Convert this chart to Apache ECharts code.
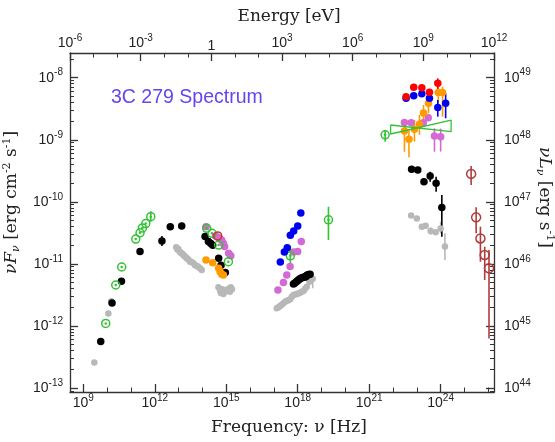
<!DOCTYPE html>
<html>
<head>
<meta charset="utf-8">
<script src="https://cdn.jsdelivr.net/npm/echarts@6/dist/echarts.min.js"></script>
<style>
  html, body { margin: 0; padding: 0; background: #fff; }
  #chart { width: 555px; height: 442px; }
</style>
</head>
<body>
<div id="chart"></div>
<script>
// every value is log10: nu in Hz, nuFnu in erg cm^-2 s^-1
const greyNu = [9.46, 10.05, 10.17,
  12.90, 12.95, 12.99, 13.04, 13.09, 13.13, 13.18, 13.23, 13.29, 13.34, 13.41, 13.48, 13.55, 13.62, 13.69, 13.76, 13.83, 13.90, 13.97,
  14.67, 14.74, 14.84, 14.92, 15.02, 15.10, 15.19, 15.24, 14.88, 14.78, 15.15,
  17.12, 17.19, 17.26, 17.33, 17.40, 17.47, 17.54, 17.61, 17.68, 17.75, 17.82, 17.89, 17.96, 18.03, 18.10, 18.17, 18.24, 18.31, 18.38, 18.49, 18.55, 18.63,
  22.76, 23.00, 23.21, 23.37, 23.58, 23.79, 24.00, 24.18];
const greyF = [-12.59, -11.80, -11.60,
  -10.73, -10.77, -10.76, -10.80, -10.82, -10.83, -10.85, -10.87, -10.89, -10.91, -10.93, -10.965, -10.97, -10.99, -11.02, -11.03, -11.05, -11.07, -11.10,
  -11.378, -11.432, -11.41, -11.453, -11.421, -11.40, -11.378, -11.41, -11.486, -11.47, -11.45,
  -11.716, -11.70, -11.679, -11.66, -11.635, -11.61, -11.593, -11.585, -11.571, -11.53, -11.502, -11.495, -11.486, -11.475, -11.465, -11.45, -11.437, -11.40, -11.368, -11.287, -11.26, -11.239,
  -10.22, -10.27, -10.40, -10.385, -10.47, -10.49, -10.43, -10.72];
const greyErr = [[18.63, -11.393, -11.206], [23.58, -10.53, -10.41], [24.00, -10.507, -10.32], [24.18, -10.937, -10.507]];

const blackNu = [9.73, 10.205, 10.60, 11.38, 12.30, 12.65, 13.13,
  14.11, 14.25, 14.35, 14.43, 14.68, 14.78, 14.96,
  17.82, 17.87, 17.93, 17.98, 18.03, 18.08, 18.13, 18.18, 18.24, 18.29, 18.34, 18.37, 18.40, 18.46, 18.52,
  22.78, 23.04, 23.30, 23.56, 23.81, 24.05];
const blackF = [-12.25, -11.63, -11.28, -10.80, -10.63, -10.40, -10.39,
  -10.56, -10.64, -10.67, -10.70, -10.91, -11.02, -11.14,
  -11.324, -11.31, -11.292, -11.275, -11.26, -11.245, -11.233, -11.225, -11.216, -11.21, -11.207, -11.19, -11.179, -11.17, -11.168,
  -9.476, -9.487, -9.676, -9.584, -9.70, -10.09];
const blackErr = [[12.30, -10.71, -10.55], [22.78, -9.53, -9.43], [23.30, -9.73, -9.62],
  [23.56, -9.676, -9.515], [23.81, -9.837, -9.595], [24.05, -10.562, -9.89]];

const greenNu = [9.94, 10.36, 10.61, 11.20, 11.38, 11.48, 11.62, 11.83, 14.18, 14.40, 14.68, 15.09, 17.69, 19.29, 21.67];
const greenF = [-11.96, -11.34, -11.05, -10.60, -10.50, -10.42, -10.35, -10.24, -10.427, -10.507, -10.696, -10.965, -10.87, -10.29, -8.92];
const greenErr = [[11.83, -10.32, -10.15], [17.69, -11.034, -10.712], [19.29, -10.615, -10.079], [21.67, -9.031, -8.843]];

const magentaNu = [14.15, 14.55, 14.65, 14.74, 14.81, 14.88, 14.93, 15.10, 15.19,
  17.17, 17.40, 17.54, 17.68, 17.83, 18.00, 18.15,
  22.48, 22.76, 23.27, 23.48, 23.74, 24.00];
const magentaF = [-10.40, -10.55, -10.57, -10.60, -10.62, -10.67, -10.72, -10.83, -10.87,
  -11.42, -11.30, -11.18, -11.04, -10.81, -10.80, -10.64,
  -8.72, -8.725, -8.725, -8.645, -8.94, -8.95];
const magentaErr = [[22.48, -8.76, -8.68], [22.76, -8.77, -8.68], [23.48, -8.70, -8.60],
  [23.74, -9.192, -8.815], [24.00, -9.19, -8.82]];

const orangeNu = [14.15, 14.43, 14.68, 14.74, 14.81, 14.88, 22.48, 22.67, 22.90, 23.11, 23.28, 23.49, 23.90, 24.08];
const orangeF = [-10.937, -10.98, -11.07, -11.126, -11.168, -11.18, -8.86, -8.99, -8.83, -8.75, -8.57, -8.41, -8.24, -8.24];
const orangeErr = [[22.48, -9.192, -8.682], [22.67, -9.283, -8.843], [22.90, -9.03, -8.682], [23.11, -8.92, -8.60],
  [23.28, -8.735, -8.44], [23.49, -8.574, -8.306], [23.90, -8.41, -8.064], [24.08, -8.628, -8.145]];

const blueNu = [17.27, 17.44, 17.56, 17.69, 17.83, 18.00, 18.13, 22.55, 22.87, 23.21, 23.53, 23.88, 24.21];
const blueF = [-10.97, -10.81, -10.74, -10.54, -10.47, -10.39, -10.18, -8.33, -8.29, -8.26, -8.33, -8.48, -8.41];
const blueErr = [[23.53, -8.39, -8.27], [23.88, -8.628, -8.359], [24.21, -8.654, -8.252]];

const redNu = [22.55, 22.87, 23.21, 23.53, 23.88];
const redF = [-8.306, -8.155, -8.16, -8.236, -8.09];
const redErr = [[23.53, -8.29, -8.18], [23.88, -8.20, -8.01]];
const gammaBinHalf = 0.12;

const optRedNu = [14.64];
const optRedF = [-10.55];

const vheNu = [25.28, 25.49, 25.67, 25.85, 26.03];
const vheF = [-9.55, -10.25, -10.59, -10.857, -11.07];
const vheErr = [[25.28, -9.729, -9.423], [25.49, -10.507, -10.088], [25.67, -10.965, -10.40],
  [25.85, -11.26, -10.723], [26.03, -12.2, -10.776]];

const bowtieNu = [21.90, 24.44, 24.44, 21.90, 21.90];
const bowtieF = [-8.762, -8.87, -8.682, -8.907, -8.762];

// axis ranges (log10) and ticks
const xMin = 8.44, xMax = 26.24;
const yMin = -13.064, yMax = -7.602;
const lumShift = 57;
const nuMajor = [9, 12, 15, 18, 21, 24];
const nuMinor = [9, 10, 11, 12, 13, 14, 15, 16, 17, 18, 19, 20, 21, 22, 23, 24, 25, 26];
const eMajor = [-6, -3, 0, 3, 6, 9, 12];
const eMinor = [-6, -5, -4, -3, -2, -1, 0, 1, 2, 3, 4, 5, 6, 7, 8, 9, 10, 11, 12];
const fluxMajor = [-13, -12, -11, -10, -9, -8];
const lumMajor = [44, 45, 46, 47, 48, 49];

function logMinor(lo, hi) {
  const out = [];
  for (let n = Math.floor(lo); n <= Math.ceil(hi); n++) {
    for (let k = 2; k <= 9; k++) {
      const v = n + Math.log10(k);
      if (v > lo && v < hi) out.push(v);
    }
  }
  return out;
}

const sans = 'Liberation Sans';
const serif = 'DejaVu Serif';
const ink = '#222';
const axisLine = { color: '#333', width: 1.3 };

const tickRich = {
  b: { fontFamily: sans, fontSize: 14, color: ink },
  s: { fontFamily: sans, fontSize: 10, color: ink, padding: [0, 0, 10, 0] }
};
const nameRich = {
  it: { fontFamily: serif, fontSize: 17, fontStyle: 'italic', color: ink },
  sub: { fontFamily: serif, fontSize: 11, fontStyle: 'italic', color: ink, padding: [9, 0, 0, 0] },
  sup: { fontFamily: serif, fontSize: 11, color: ink, padding: [0, 0, 10, 0] }
};

function powLabel(v) {
  const e = Math.round(v);
  if (e === 0) return '{b|1}';
  return '{b|10}{s|' + e + '}';
}

function mainAxis(pos, min, max, major, margin) {
  return {
    type: 'value', position: pos, min: min, max: max,
    axisLine: { show: true, onZero: false, lineStyle: axisLine },
    axisTick: { show: true, inside: true, length: 8, customValues: major, lineStyle: axisLine },
    axisLabel: { show: true, customValues: major, formatter: powLabel, margin: margin, rich: tickRich },
    splitLine: { show: false }
  };
}
function minorAxis(pos, min, max, ticks, len) {
  return {
    type: 'value', position: pos, min: min, max: max,
    axisLine: { show: false, onZero: false },
    axisTick: { show: true, inside: true, length: len, customValues: ticks, lineStyle: { color: '#333', width: 1 } },
    axisLabel: { show: false },
    splitLine: { show: false }
  };
}

const bottomAxis = Object.assign(mainAxis('bottom', xMin, xMax, nuMajor, 1), {
  name: 'Frequency: ν [Hz]', nameLocation: 'middle', nameGap: 27,
  nameTextStyle: { fontFamily: serif, fontSize: 17, color: ink, padding: [0, 0, 0, 14] }
});
const topAxis = Object.assign(mainAxis('top', -6, 12, eMajor, 0), {
  name: 'Energy [eV]', nameLocation: 'middle', nameGap: 28,
  nameTextStyle: { fontFamily: serif, fontSize: 17, color: ink, padding: [0, 0, 0, 14] }
});
const leftAxis = Object.assign(mainAxis('left', yMin, yMax, fluxMajor, 7), {
  name: '{it|νF}{sub|ν} [erg cm{sup|-2} s{sup|-1}]', nameLocation: 'middle', nameGap: 42, nameRotate: 90,
  nameTextStyle: { fontFamily: serif, fontSize: 17, color: ink, rich: nameRich, padding: [0, 0, 0, 40] }
});
const rightAxis = Object.assign(mainAxis('right', yMin + lumShift, yMax + lumShift, lumMajor, 10), {
  name: '{it|νL}{sub|ν} [erg s{sup|-1}]', nameLocation: 'middle', nameGap: 40, nameRotate: -90,
  nameMoveOverlap: false,
  nameTextStyle: { fontFamily: serif, fontSize: 17, color: ink, rich: nameRich, padding: [0, 50, 0, 0] }
});

function pts(nu, f) {
  return nu.map((v, i) => [v, f[i]]);
}
function dots(nu, f, color, size) {
  return { type: 'scatter', data: pts(nu, f), symbol: 'circle', symbolSize: size || 7.5,
    itemStyle: { color: color, opacity: 1 }, silent: true };
}
function rings(nu, f, color, size) {
  return { type: 'scatter', data: pts(nu, f), symbol: 'circle', symbolSize: size || 8,
    itemStyle: { color: 'rgba(0,0,0,0)', borderColor: color, borderWidth: 1.5, opacity: 1 }, silent: true };
}
function vBars(rows, color) {
  return {
    type: 'custom', data: rows, silent: true, itemStyle: { color: color },
    encode: { x: 0, y: [1, 2] },
    renderItem: function (params, api) {
      const a = api.coord([api.value(0), api.value(1)]);
      const b = api.coord([api.value(0), api.value(2)]);
      return { type: 'line', shape: { x1: a[0], y1: a[1], x2: b[0], y2: b[1] },
        style: { stroke: color, lineWidth: 1.6 } };
    }
  };
}
function hBars(nu, f, half, color) {
  return {
    type: 'custom', data: pts(nu, f), silent: true,
    encode: { x: 0, y: 1 },
    renderItem: function (params, api) {
      const a = api.coord([api.value(0) - half, api.value(1)]);
      const b = api.coord([api.value(0) + half, api.value(1)]);
      return { type: 'line', shape: { x1: a[0], y1: a[1], x2: b[0], y2: b[1] },
        style: { stroke: color, lineWidth: 1.6 } };
    }
  };
}

const cGrey = '#b8b8b8', cBlack = '#000000', cGreen = '#33c233', cMagenta = '#d36ad3',
  cOrange = '#ff9a00', cBlue = '#0000f0', cRed = '#ff0000', cVhe = '#b03c3c';

const series = [
  vBars(greyErr, cGrey), dots(greyNu, greyF, cGrey, 6.5),
  vBars(blackErr, cBlack), dots(blackNu, blackF, cBlack),
  vBars(magentaErr, cMagenta), dots(magentaNu, magentaF, cMagenta),
  vBars(orangeErr, cOrange), dots(orangeNu, orangeF, cOrange),
  { type: 'line', data: pts(bowtieNu, bowtieF), showSymbol: false, symbol: 'none', silent: true,
    lineStyle: { color: cGreen, width: 1.3 } },
  vBars(greenErr, cGreen), rings(greenNu, greenF, cGreen), dots(greenNu, greenF, cGreen, 2.5),
  vBars(blueErr, cBlue), hBars(blueNu.slice(7), blueF.slice(7), gammaBinHalf, cBlue), dots(blueNu, blueF, cBlue),
  vBars(redErr, cRed), hBars(redNu, redF, gammaBinHalf, cRed), dots(redNu, redF, cRed),
  rings(optRedNu, optRedF, '#d03030'),
  vBars(vheErr, cVhe), rings(vheNu, vheF, cVhe, 9)
];

const chart = echarts.init(document.getElementById('chart'), null, { renderer: 'canvas' });
chart.setOption({
  animation: false,
  backgroundColor: '#ffffff',
  title: {
    text: '3C 279 Spectrum', left: 106, top: 83,
    textStyle: { fontFamily: sans, fontSize: 19.5, fontWeight: 'normal', color: '#6644ee' }
  },
  grid: { left: 70, right: 61, top: 53, bottom: 50, containLabel: false, outerBoundsMode: 'none' },
  xAxis: [
    bottomAxis,
    minorAxis('bottom', xMin, xMax, nuMinor, 4.5),
    topAxis,
    minorAxis('top', -6, 12, eMinor, 4.5)
  ],
  yAxis: [
    leftAxis,
    minorAxis('left', yMin, yMax, logMinor(yMin, yMax), 4),
    rightAxis,
    minorAxis('right', yMin + lumShift, yMax + lumShift, logMinor(yMin + lumShift, yMax + lumShift), 4)
  ],
  series: series
});
</script>
</body>
</html>
